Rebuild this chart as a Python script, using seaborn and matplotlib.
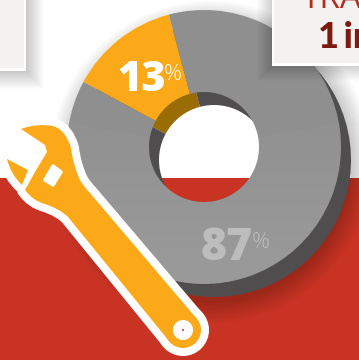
import matplotlib
matplotlib.use("Agg")
import matplotlib.pyplot as plt
import seaborn as sns
from matplotlib.path import Path
from matplotlib.patches import PathPatch, Circle, Rectangle, Polygon, Wedge

# Share of each slice, in percent
slice_names = ["orange", "grey"]
slice_values = [13, 87]
slice_labels = ["13", "87"]

sns.set_theme(style="white")
top_colors = sns.color_palette(["#FBA919", "#8F8F8F"])
side_colors = sns.color_palette(["#9A6C04", "#4F4D4E"])

W, H = 359, 360
RED = "#C93324"
ORANGE = "#FBA919"
BOX = "#F3F2F0"


def Y(y):
    return H - y


def P(pts):
    return [(x, Y(y)) for x, y in pts]


fig = plt.figure(figsize=(W / 100, H / 100), dpi=100)
ax = fig.add_axes([0, 0, 1, 1])
ax.add_patch(Rectangle((0, 0), W, H, fc="white", ec="none", zorder=0))
ax.add_patch(Rectangle((0, 0), W, Y(178), fc=RED, ec="none", zorder=0.1))


def soft_box(x0, y0, x1, y1, spread, alpha, z):
    # stacked translucent rectangles make a soft drop shadow
    for i in range(spread):
        ax.add_patch(Rectangle((x0 - i, Y(y1 + i)), x1 - x0 + 2 * i, y1 - y0 + 2 * i,
                               fc="black", ec="none", alpha=alpha, zorder=z))


cx, cy, radius, ring = 204, 147, 137, 82
dx, dy = 10, 13
start = 128.25 - slice_values[0] * 3.6 / 2

# soft shadow of the ring
for i in range(0, 22, 2):
    ax.add_patch(Circle((211, Y(162)), 141 + i, fc="black", ec="none", alpha=0.018, zorder=0.5))

# the hole shows the clean two-tone background again
hole_clip = Circle((cx + dx / 2, Y(cy + dy / 2)), 70, transform=ax.transData)
hole_white = Rectangle((0, Y(178)), W, 178, fc="white", ec="none", zorder=0.6)
hole_red = Rectangle((0, 0), W, Y(178), fc=RED, ec="none", zorder=0.6)
for patch in (hole_white, hole_red):
    ax.add_patch(patch)
    patch.set_clip_path(hole_clip)

# extruded side of the ring, then its top face
ax.pie(slice_values, colors=side_colors, startangle=start, radius=radius,
       center=(cx + dx, Y(cy + dy)), wedgeprops=dict(width=ring, linewidth=0), frame=True)
ax.pie(slice_values, colors=top_colors, startangle=start, radius=radius,
       center=(cx, Y(cy)), wedgeprops=dict(width=ring, linewidth=0), frame=True)

# the face lightens gradually towards the bottom
for y_band in range(110, 270, 16):
    band = Rectangle((0, 0), W, Y(y_band), fc="white", ec="none", alpha=0.012, zorder=1.5)
    ax.add_patch(band)
    band.set_clip_path(Wedge((cx, Y(cy)), radius, 170, 370, width=ring, transform=ax.transData))

# info panels
soft_box(0, 0, 27, 72, 18, 0.012, 2)
ax.add_patch(Rectangle((0, Y(71)), 26, 71, fc="white", ec="none", zorder=2.2))
ax.add_patch(Rectangle((0, Y(68)), 24, 68, fc=BOX, ec="none", zorder=2.3))
soft_box(272, 0, 359, 66, 16, 0.012, 2)
ax.add_patch(Rectangle((272, Y(66)), 87, 66, fc="white", ec="none", zorder=2.2))
ax.add_patch(Rectangle((274, Y(63)), 85, 63, fc=BOX, ec="none", zorder=2.3))
ax.text(302, Y(8), "TRA", family="Open Sans", fontsize=24, color="#B02E20",
        ha="left", va="baseline", zorder=3)
ax.text(318, Y(48), "1\u2009in", family="Lato", weight="black", fontsize=26,
        color="#7C1A0F", ha="left", va="baseline", zorder=3)

# wrench outline
M, L, C = Path.MOVETO, Path.LINETO, Path.CURVE3
body = [((21, 129), M), ((37, 123), C), ((53, 126), C), ((66, 130), C), ((71, 148), C),
        ((73, 165), C), ((80, 180), C), ((84, 187), C), ((90, 193), C), ((197, 319), L),
        ((169, 341), L), ((68, 217), L), ((60, 209), C), ((45, 204), C), ((33, 201), C),
        ((25, 190), C), ((35, 172), L), ((47, 152), L), ((45, 145), L), ((21, 129), L)]
jaw = [((7, 159), M), ((28, 170), L), ((22, 185), L), ((11, 175), C), ((7, 159), C)]
for pts in (body, jaw):
    path = Path(P([p for p, _ in pts]), [c for _, c in pts])
    ax.add_patch(PathPatch(path, fc="white", ec="white", lw=11.5, joinstyle="round", zorder=4))
ax.add_patch(Circle((183, Y(330)), 18, fc="white", ec="white", lw=11.5, zorder=4))
for pts in (body, jaw):
    path = Path(P([p for p, _ in pts]), [c for _, c in pts])
    ax.add_patch(PathPatch(path, fc=ORANGE, ec="none", zorder=4.5))
ax.add_patch(Circle((183, Y(330)), 18, fc=ORANGE, ec="none", zorder=4.5))
ax.add_patch(Polygon(P([(53, 166), (61, 172), (53, 185), (45, 180)]), closed=True,
                     fc="white", ec="white", lw=2.5, joinstyle="round", zorder=5))
ax.add_patch(Circle((183, Y(330)), 10, fc="white", ec="none", zorder=5))
ax.add_patch(Circle((183, Y(330)), 1, fc=RED, ec="none", zorder=5.1))

# percentage labels
ax.text(117, Y(91), slice_labels[0], family="Open Sans", weight="extra bold", fontsize=30,
        color="white", ha="left", va="baseline", zorder=3)
ax.text(164, Y(80), "%", family="Open Sans", weight="light", fontsize=16,
        color="white", ha="left", va="baseline", zorder=3)
ax.text(201, Y(260), slice_labels[1], family="Open Sans", weight="extra bold", fontsize=32,
        color="#BDBDBD", ha="left", va="baseline", zorder=3)
ax.text(252, Y(248), "%", family="Open Sans", weight="light", fontsize=16,
        color="#BDBDBD", ha="left", va="baseline", zorder=3)

ax.set_xlim(0, W)
ax.set_ylim(0, H)
ax.set_aspect("auto")
ax.axis("off")
fig.savefig("out.png", dpi=100)
